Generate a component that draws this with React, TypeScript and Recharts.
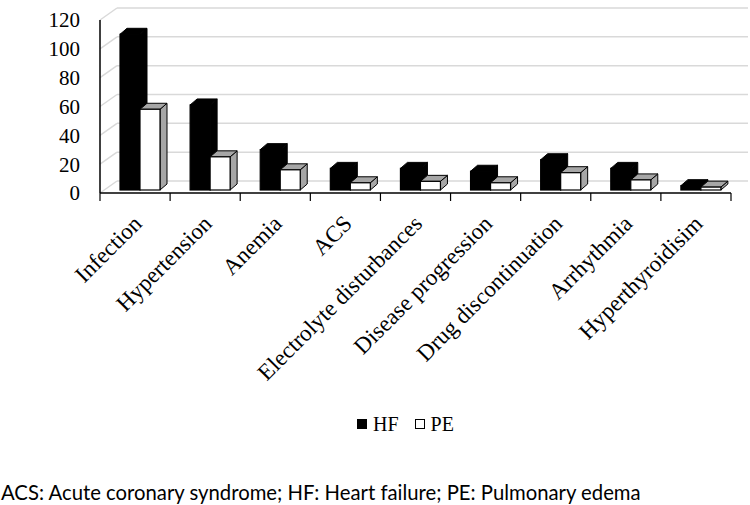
import React from "react";
import { BarChart, Bar, XAxis, YAxis, CartesianGrid, Legend } from "recharts";

const causes = [
  "Infection",
  "Hypertension",
  "Anemia",
  "ACS",
  "Electrolyte disturbances",
  "Disease progression",
  "Drug discontinuation",
  "Arrhythmia",
  "Hyperthyroidisim",
];
const hfCounts = [108, 59, 28, 15, 15, 13, 21, 15, 3];
const peCounts = [56, 23, 14, 5, 6, 5, 12, 7, 2];
const yTicks = [0, 20, 40, 60, 80, 100, 120];

const data = causes.map((cause, i) => ({ cause, HF: hfCounts[i], PE: peCounts[i] }));

const serif = "Liberation Serif, Times New Roman, serif";
const CHART_W = 750;
const CHART_H = 445;
const MARGIN = { top: 20, right: 19, left: 0, bottom: 9 };
const Y_AXIS_W = 100;
const HALF_BAND = (CHART_W - MARGIN.left - MARGIN.right - Y_AXIS_W) / causes.length / 2;

// fake 3d: back wall offset, bar depth, bar placed mid-floor
const WALL_X = 17;
const WALL_Y = 12;
const DEPTH_X = 7;
const DEPTH_Y = 6;
const SHIFT_X = 5;
const SHIFT_Y = 3;

const wallLine = (props: any) => {
  const { x1, y1, x2, y2, index } = props;
  return (
    <g key={`wall-${index}`}>
      <line x1={x1} y1={y1} x2={x1 + WALL_X} y2={y1 - WALL_Y} stroke="#d9d9d9" strokeWidth={1.5} />
      <line
        x1={x1 + WALL_X}
        y1={y1 - WALL_Y}
        x2={x2 + WALL_X}
        y2={y2 - WALL_Y}
        stroke="#d9d9d9"
        strokeWidth={1.5}
      />
    </g>
  );
};

const makeBar3D = (face: string, roof: string, wall: string) => (props: any) => {
  const { width, height } = props;
  const x = props.x + SHIFT_X;
  const y = props.y - SHIFT_Y;
  if (!height && height !== 0) return null;
  const top = `${x},${y} ${x + DEPTH_X},${y - DEPTH_Y} ${x + width + DEPTH_X},${y - DEPTH_Y} ${x + width},${y}`;
  const side = `${x + width},${y} ${x + width + DEPTH_X},${y - DEPTH_Y} ${x + width + DEPTH_X},${
    y + height - DEPTH_Y
  } ${x + width},${y + height}`;
  return (
    <g>
      <polygon points={side} fill={wall} stroke="#000" strokeWidth={1} strokeLinejoin="round" />
      <polygon points={top} fill={roof} stroke="#000" strokeWidth={1} strokeLinejoin="round" />
      <rect x={x} y={y} width={width} height={height} fill={face} stroke="#000" strokeWidth={1.2} />
    </g>
  );
};

const CauseTick = (props: any) => {
  const { x, y, index, payload } = props;
  const tx = x + 8;
  const ty = y + 32;
  return (
    <g>
      <line x1={x - HALF_BAND} y1={y} x2={x - HALF_BAND} y2={y + 8} stroke="#000" strokeWidth={1.2} />
      {index === causes.length - 1 && (
        <line x1={x + HALF_BAND} y1={y} x2={x + HALF_BAND} y2={y + 8} stroke="#000" strokeWidth={1.2} />
      )}
      <text
        x={tx}
        y={ty}
        transform={`rotate(-45, ${tx}, ${ty})`}
        textAnchor="end"
        style={{ fontFamily: serif, fontSize: 23 }}
        fill="#000"
      >
        {payload.value}
      </text>
    </g>
  );
};

const CountTick = (props: any) => {
  const { x, y, payload } = props;
  return (
    <text x={x} y={y} dy="0.35em" textAnchor="end" style={{ fontFamily: serif, fontSize: 21 }} fill="#000">
      {payload.value}
    </text>
  );
};

const renderLegend = (props: any) => {
  const { payload } = props;
  return (
    <div
      style={{
        display: "flex",
        justifyContent: "center",
        paddingLeft: 80,
        fontFamily: serif,
        fontSize: 20,
        lineHeight: "24px",
        color: "#000",
      }}
    >
      {(payload || []).map((entry: any) => (
        <span key={entry.value} style={{ display: "inline-flex", alignItems: "center", margin: "0 8px" }}>
          <span
            style={{
              display: "inline-block",
              width: 10,
              height: 10,
              background: entry.color,
              border: "1px solid #000",
              boxSizing: "border-box",
              marginRight: 6,
            }}
          />
          {entry.value}
        </span>
      ))}
    </div>
  );
};

export default function App() {
  return (
    <div style={{ position: "absolute", left: 0, top: 0, width: 750, height: 505, background: "#fff" }}>
      <BarChart width={CHART_W} height={CHART_H} data={data} margin={MARGIN} barGap={0} barSize={20}>
        <CartesianGrid horizontal={wallLine} vertical={false} />
        <XAxis
          dataKey="cause"
          interval={0}
          height={219}
          tickSize={0}
          tickMargin={0}
          tickLine={false}
          axisLine={{ stroke: "#000", strokeWidth: 1.5 }}
          tick={<CauseTick />}
        />
        <YAxis
          width={Y_AXIS_W}
          domain={[0, 120]}
          ticks={yTicks}
          interval={0}
          tickLine={false}
          tickSize={0}
          tickMargin={20}
          axisLine={{ stroke: "#000", strokeWidth: 1.5 }}
          tick={<CountTick />}
        />
        <Legend verticalAlign="bottom" content={renderLegend} />
        <Bar dataKey="HF" name="HF" fill="#000" shape={makeBar3D("#000", "#000", "#000")} isAnimationActive={false} />
        <Bar dataKey="PE" name="PE" fill="#fff" shape={makeBar3D("#fff", "#a6a6a6", "#a6a6a6")} isAnimationActive={false} />
      </BarChart>
      <div
        style={{
          position: "absolute",
          left: 1,
          top: 481,
          fontFamily: "Lato, 'Open Sans', sans-serif",
          fontSize: 20.3,
          lineHeight: "22px",
          color: "#000",
          whiteSpace: "nowrap",
        }}
      >
        ACS: Acute coronary syndrome; HF: Heart failure; PE: Pulmonary edema
      </div>
    </div>
  );
}
